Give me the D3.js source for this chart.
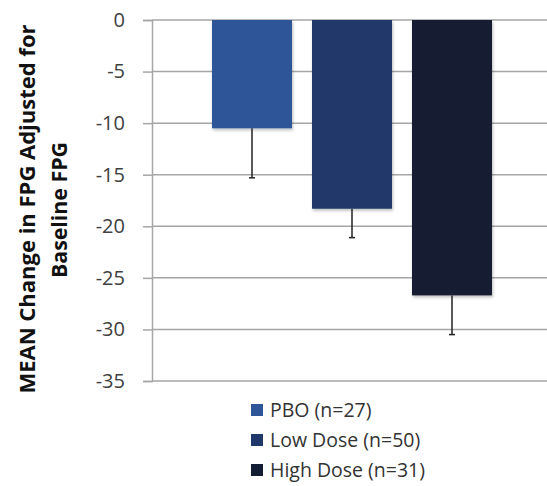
<!DOCTYPE html>
<html lang="en">
<head>
    <meta charset="UTF-8">
    <title>Mean Change in FPG</title>
    <script src="https://d3js.org/d3.v7.min.js"></script>
    <style>
        body { margin: 0; background: #fff; }
        text { font-family: "Open Sans", sans-serif; }
    </style>
</head>
<body>
    <div id="chart-container"></div>
    <script>
        // data
        const groups = ["PBO (n=27)", "Low Dose (n=50)", "High Dose (n=31)"];
        const means = [-10.5, -18.3, -26.7];
        const errors = [4.8, 2.8, 3.8];
        const colors = ["#2e5597", "#21396a", "#121d33"];
        const yTicks = [0, -5, -10, -15, -20, -25, -30, -35];

        const containerWidth = 547;
        const containerHeight = 486;

        const svg = d3.select("#chart-container")
            .append("svg")
            .attr("width", containerWidth)
            .attr("height", containerHeight);

        // scale for y axis
        const y = d3.scaleLinear()
            .domain([-35, 0])
            .range([381, 20]);

        // scale for x axis
        const x = d3.scaleBand()
            .domain(groups)
            .range([202, 502])
            .paddingInner(0.2)
            .paddingOuter(0.1);

        const plotLeft = 152;

        // gridlines
        svg.append("g")
            .selectAll("line")
            .data(yTicks)
            .join("line")
            .attr("x1", plotLeft)
            .attr("x2", containerWidth)
            .attr("y1", d => y(d))
            .attr("y2", d => y(d))
            .attr("stroke", "#a6a6a6")
            .attr("stroke-width", 1.5);

        // y axis (plain hyphen for negatives, like the original)
        const yAxis = svg.append("g")
            .attr("transform", `translate(${plotLeft},0)`)
            .call(d3.axisLeft(y).tickValues(yTicks).tickSize(9).tickPadding(18).tickFormat(d => String(d)));
        yAxis.select(".domain").attr("stroke", "#a6a6a6").attr("stroke-width", 1.5);
        yAxis.selectAll(".tick line").attr("stroke", "#a6a6a6").attr("stroke-width", 1.5);
        yAxis.selectAll(".tick text")
            .attr("fill", "#404040")
            .style("font-size", "20px")
            .style("font-family", "'Open Sans', sans-serif");

        // shadow filter
        const defs = svg.append("defs");
        const f = defs.append("filter").attr("id", "shadow")
            .attr("x", "-10%").attr("y", "-10%").attr("width", "130%").attr("height", "130%");
        f.append("feDropShadow").attr("dx", 1).attr("dy", 2).attr("stdDeviation", 1.5)
            .attr("flood-color", "#000").attr("flood-opacity", 0.25);

        // bars
        svg.append("g")
            .selectAll("rect")
            .data(groups)
            .join("rect")
            .attr("x", d => x(d))
            .attr("y", y(0))
            .attr("width", x.bandwidth())
            .attr("height", (d, i) => y(means[i]) - y(0))
            .attr("fill", (d, i) => colors[i])
            .attr("filter", "url(#shadow)");

        // error bars
        const eb = svg.append("g");
        eb.selectAll("line.whisker")
            .data(groups)
            .join("line")
            .attr("class", "whisker")
            .attr("x1", d => x(d) + x.bandwidth() / 2)
            .attr("x2", d => x(d) + x.bandwidth() / 2)
            .attr("y1", (d, i) => y(means[i]))
            .attr("y2", (d, i) => y(means[i] - errors[i]))
            .attr("stroke", "#222")
            .attr("stroke-width", 1.5);
        eb.selectAll("line.cap")
            .data(groups)
            .join("line")
            .attr("class", "cap")
            .attr("x1", d => x(d) + x.bandwidth() / 2 - 3)
            .attr("x2", d => x(d) + x.bandwidth() / 2 + 3)
            .attr("y1", (d, i) => y(means[i] - errors[i]))
            .attr("y2", (d, i) => y(means[i] - errors[i]))
            .attr("stroke", "#222")
            .attr("stroke-width", 1.5);

        // y axis title
        svg.append("text")
            .attr("transform", "translate(35,209) rotate(-90)")
            .attr("text-anchor", "middle")
            .style("font-size", "21px")
            .style("font-weight", "bold")
            .attr("fill", "#111")
            .attr("textLength", 369)
            .attr("lengthAdjust", "spacingAndGlyphs")
            .text("MEAN Change in FPG Adjusted for");
        svg.append("text")
            .attr("transform", "translate(67,210) rotate(-90)")
            .attr("text-anchor", "middle")
            .style("font-size", "21px")
            .style("font-weight", "bold")
            .attr("fill", "#111")
            .attr("textLength", 136)
            .attr("lengthAdjust", "spacingAndGlyphs")
            .text("Baseline FPG");

        // legend
        const legend = svg.append("g")
            .selectAll("g")
            .data(groups)
            .join("g")
            .attr("transform", (d, i) => `translate(251,${410 + i * 30})`);
        legend.append("rect")
            .attr("x", 0)
            .attr("y", -6)
            .attr("width", 12)
            .attr("height", 12)
            .attr("fill", (d, i) => colors[i]);
        legend.append("text")
            .attr("x", 19)
            .attr("y", 0)
            .attr("dy", "0.36em")
            .attr("fill", "#333")
            .style("font-size", "19.5px")
            .text(d => d);
    </script>
</body>
</html>
